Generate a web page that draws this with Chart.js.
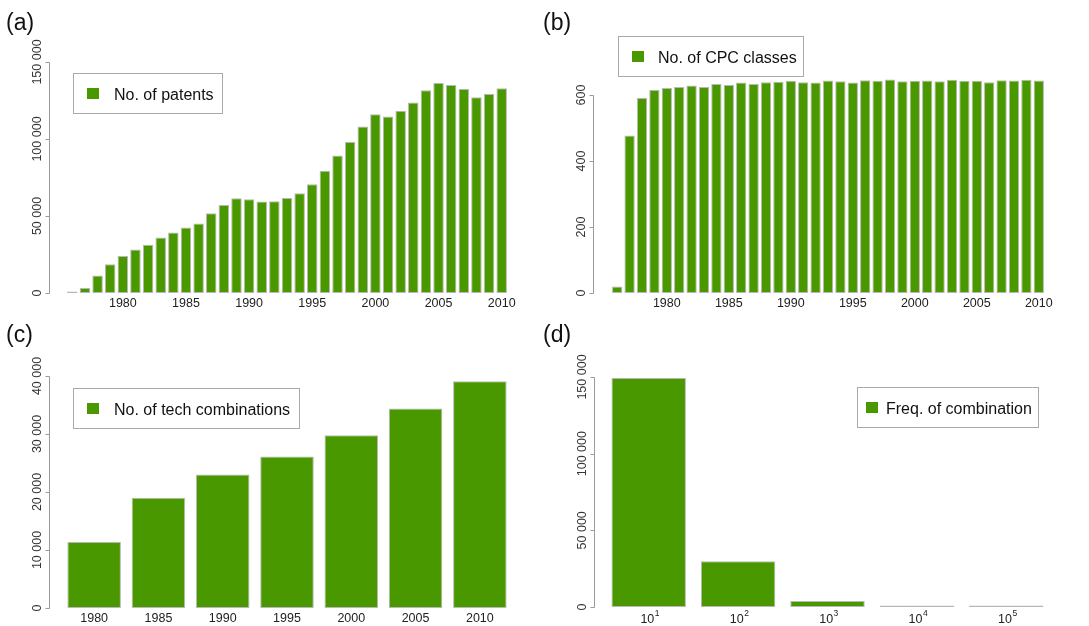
<!DOCTYPE html>
<html>
<head>
<meta charset="utf-8">
<script src="https://cdn.jsdelivr.net/npm/chart.js@4.4.0/dist/chart.umd.min.js"></script>
<style>
body { margin: 0; background: #fff; width: 1089px; height: 626px; overflow: hidden; position: relative; font-family: "Liberation Sans", Arial, sans-serif; }
canvas { position: absolute; }
.tag { position: absolute; font-size: 23px; line-height: 23px; color: #111; }
</style>
</head>
<body>
<canvas id="ca" width="540" height="320" style="left:0;top:0"></canvas>
<canvas id="cb" width="549" height="320" style="left:540px;top:0"></canvas>
<canvas id="cc" width="540" height="306" style="left:0;top:320px"></canvas>
<canvas id="cd" width="549" height="306" style="left:540px;top:320px"></canvas>
<div class="tag" style="left:6px;top:11px">(a)</div>
<div class="tag" style="left:543px;top:11px">(b)</div>
<div class="tag" style="left:6px;top:323px">(c)</div>
<div class="tag" style="left:543px;top:323px">(d)</div>
<script>
// Datos
const years = ['1976', '1977', '1978', '1979', '1980', '1981', '1982', '1983', '1984', '1985',
    '1986', '1987', '1988', '1989', '1990', '1991', '1992', '1993', '1994', '1995',
    '1996', '1997', '1998', '1999', '2000', '2001', '2002', '2003', '2004', '2005',
    '2006', '2007', '2008', '2009', '2010'];
const yearTicks = ['1980', '1985', '1990', '1995', '2000', '2005', '2010'];

const patents = [300, 3300, 11300, 18600, 24000, 28300, 31300, 36000, 39300, 42500,
    45100, 51800, 57200, 61500, 60900, 59400, 59600, 61700, 64700, 70600,
    79400, 89300, 98000, 108100, 116100, 114600, 118300, 123700, 131600, 136400,
    135100, 132500, 127100, 129300, 132900];

const cpcClasses = [20, 477, 591, 615, 621, 624, 629, 624, 633, 630,
    638, 633, 639, 640, 643, 639, 638, 644, 642, 638,
    645, 643, 647, 642, 643, 644, 642, 646, 643, 643,
    639, 645, 644, 646, 644];

const combYears = ['1980', '1985', '1990', '1995', '2000', '2005', '2010'];
const techCombinations = [11400, 19000, 23000, 26100, 29800, 34400, 39100];

// Frecuencia: etiquetas 10^1 ... 10^5
const freqExponents = ['1', '2', '3', '4', '5'];
const freqBins = ['10^1', '10^2', '10^3', '10^4', '10^5'];
const freqCounts = [149400, 29900, 3900, 400, 60];

const patentTicks = [0, 50000, 100000, 150000];
const cpcTicks = [0, 200, 400, 600];
const combTicks = [0, 10000, 20000, 30000, 40000];
const freqTicks = [0, 50000, 100000, 150000];

const GREEN = '#4a9800';
const FONT = '"Liberation Sans", Arial, sans-serif';
Chart.defaults.font.family = FONT;

// 150000 -> "150 000"
const fmt = v => String(v).replace(/\B(?=(\d{3})+(?!\d))/g, ' ');

// Eje Y estilo R + leyenda con recuadro + etiquetas con exponente
const rAxis = {
    id: 'rAxis',
    afterDraw(chart, args, opts) {
        const ctx = chart.ctx;
        const y = chart.scales.y;
        const x0 = opts.axisX + 0.5;
        const ticks = opts.ticks;

        ctx.save();
        ctx.strokeStyle = '#9a9a9a';
        ctx.lineWidth = 1;
        ctx.beginPath();
        ctx.moveTo(x0, Math.round(y.getPixelForValue(ticks[ticks.length - 1])) + 0.5);
        ctx.lineTo(x0, Math.round(y.getPixelForValue(ticks[0])) + 0.5);
        ticks.forEach(v => {
            const p = Math.round(y.getPixelForValue(v)) + 0.5;
            ctx.moveTo(x0, p);
            ctx.lineTo(x0 - 4, p);
        });
        ctx.stroke();

        ctx.fillStyle = '#333';
        ctx.font = '12.5px ' + FONT;
        ctx.textAlign = 'center';
        ctx.textBaseline = 'middle';
        ticks.forEach(v => {
            ctx.save();
            ctx.translate(x0 - 11.5, y.getPixelForValue(v));
            ctx.rotate(-Math.PI / 2);
            ctx.fillText(fmt(v), 0, 0);
            ctx.restore();
        });

        // Etiquetas 10 con superíndice
        if (opts.sup) {
            const x = chart.scales.x;
            const base = chart.chartArea.bottom;
            ctx.fillStyle = '#222';
            ctx.textBaseline = 'alphabetic';
            ctx.textAlign = 'left';
            opts.sup.forEach((e, i) => {
                ctx.font = '12.5px ' + FONT;
                const w1 = ctx.measureText('10').width;
                ctx.font = '8.5px ' + FONT;
                const w2 = ctx.measureText(e).width;
                const left = x.getPixelForValue(i) - (w1 + w2) / 2 + 1;
                ctx.font = '12.5px ' + FONT;
                ctx.fillText('10', left, base + 16);
                ctx.font = '8.5px ' + FONT;
                ctx.fillText(e, left + w1 + 0.5, base + 9);
            });
        }

        // Leyenda
        const L = opts.legend;
        const ds = chart.data.datasets[0];
        ctx.strokeStyle = '#aaaaaa';
        ctx.strokeRect(L.x + 0.5, L.y + 0.5, L.w, L.h);
        ctx.fillStyle = ds.backgroundColor;
        ctx.fillRect(L.x + L.sx, L.y + 15, 12, 11);
        ctx.fillStyle = '#111';
        ctx.font = '16px ' + FONT;
        ctx.textAlign = 'left';
        ctx.textBaseline = 'alphabetic';
        ctx.fillText(ds.label, L.x + L.tx, L.y + 27);
        ctx.restore();
    }
};

function makeChart(id, labels, values, label, opt) {
    return new Chart(document.getElementById(id), {
        type: 'bar',
        data: {
            labels: labels,
            datasets: [{
                label: label,
                data: values,
                backgroundColor: GREEN,
                borderColor: '#b8b8b8',
                borderWidth: 1,
                borderSkipped: false,
                minBarLength: 1.5,
                barPercentage: 0.833,
                categoryPercentage: 1
            }]
        },
        options: {
            responsive: false,
            animation: false,
            layout: { padding: { top: opt.top, right: opt.right, left: 0, bottom: 0 } },
            plugins: {
                legend: { display: false },
                tooltip: { enabled: false },
                rAxis: { axisX: opt.axisX, ticks: opt.yTicks, legend: opt.legend, sup: opt.sup }
            },
            scales: {
                x: {
                    grid: { display: false, drawTicks: false },
                    border: { display: false },
                    ticks: {
                        autoSkip: false,
                        maxRotation: 0,
                        minRotation: 0,
                        padding: 3,
                        color: '#222',
                        font: { size: 12.5 },
                        callback: function(v) {
                            const l = this.getLabelForValue(v);
                            return opt.xTicks.includes(l) ? l : '';
                        }
                    },
                    afterFit: s => { s.height = opt.xh; }
                },
                y: {
                    min: 0,
                    max: opt.max,
                    ticks: { display: false },
                    grid: { display: false },
                    border: { display: false },
                    afterFit: s => { s.width = opt.yw; }
                }
            }
        },
        plugins: [rAxis]
    });
}

makeChart('ca', years, patents, 'No. of patents', {
    top: 62, right: 32, xh: 27, yw: 66, max: 150000, axisX: 49,
    yTicks: patentTicks, xTicks: yearTicks,
    legend: { x: 73, y: 73, w: 149, h: 40, sx: 14, tx: 41 }
});

makeChart('cb', years, cpcClasses, 'No. of CPC classes', {
    top: 62, right: 44, xh: 27, yw: 71, max: 700, axisX: 53,
    yTicks: cpcTicks, xTicks: yearTicks,
    legend: { x: 78, y: 36, w: 185, h: 40, sx: 14, tx: 40 }
});

makeChart('cc', combYears, techCombinations, 'No. of tech combinations', {
    top: 56, right: 28, xh: 18, yw: 62, max: 40000, axisX: 49,
    yTicks: combTicks, xTicks: combYears,
    legend: { x: 73, y: 68, w: 226, h: 40, sx: 14, tx: 41 }
});

makeChart('cd', freqBins, freqCounts, 'Freq. of combination', {
    top: 57, right: 38, xh: 19, yw: 64, max: 150000, axisX: 54,
    yTicks: freqTicks, xTicks: [], sup: freqExponents,
    legend: { x: 317, y: 67, w: 181, h: 40, sx: 9, tx: 29 }
});
</script>
</body>
</html>
